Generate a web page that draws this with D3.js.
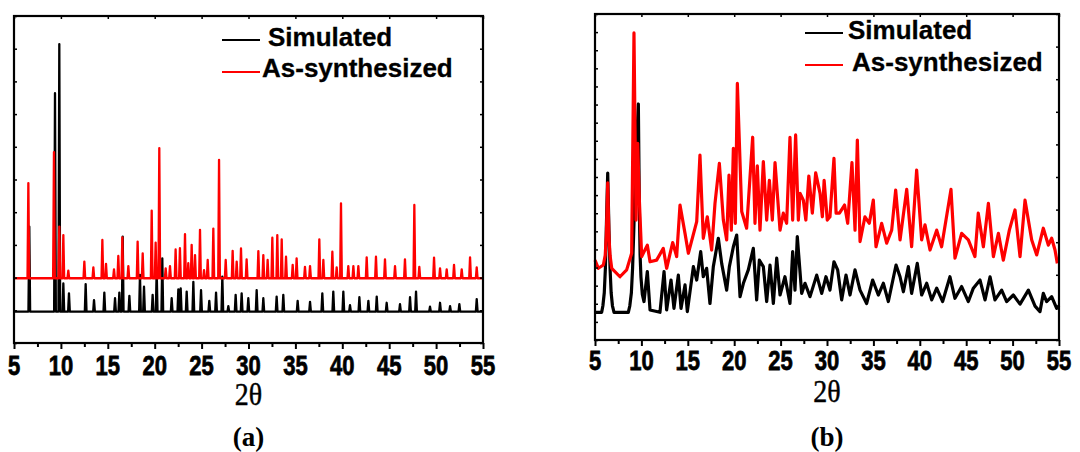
<!DOCTYPE html>
<html><head><meta charset="utf-8">
<script src="https://cdn.jsdelivr.net/npm/d3@7/dist/d3.min.js"></script>
<style>body{margin:0;background:#fff}svg{display:block}</style>
</head><body><svg id="c" width="1080" height="452"></svg>
<script>
// ---------------- data ----------------
const xTickValues = [5, 10, 15, 20, 25, 30, 35, 40, 45, 50, 55];
const seriesNames = ["Simulated", "As-synthesized"];
const seriesColors = ["#000000", "#ff0000"];
const panelLabels = ["(a)", "(b)"];
const axisTitle = "2\u03b8";

// Panel (a): sharp reflections on a flat baseline [2theta, intensity]
const simBaseA = 9.6;
const synBaseA = 19.8;
const simPeaksA = [
  [6.63,35.6],[9.37,76.4],[9.83,91.4],[10.26,18.2],[10.86,15.2],[12.64,18.0],[13.53,13.1],
  [14.63,15.4],[15.77,13.7],[16.23,15.4],[16.59,32.5],[17.30,14.4],[18.43,20.8],[18.86,17.2],
  [19.78,14.7],[20.21,22.3],[20.81,25.9],[21.81,13.7],[22.52,16.4],[22.77,16.7],[23.41,15.7],
  [24.12,18.7],[24.94,16.2],[25.82,12.9],[26.54,15.4],[27.21,20.3],[27.85,11.3],[28.63,14.7],
  [29.27,15.2],[29.98,13.7],[30.87,16.2],[31.58,13.7],[33.00,14.2],[33.71,14.7],[35.24,12.9],
  [36.56,12.6],[37.87,15.2],[39.04,15.7],[40.11,15.7],[40.82,11.6],[41.82,14.0],[42.78,12.9],
  [43.67,14.2],[44.73,12.3],[46.15,11.9],[47.22,14.0],[47.86,15.7],[49.35,11.1],[50.42,12.3],
  [51.49,11.3],[52.48,11.9],[54.33,13.4]
];
const synPeaksA = [
  [6.53,48.9],[9.26,58.4],[9.83,35.6],[10.26,33.0],[10.79,22.1],[12.50,24.9],[13.46,23.1],
  [14.42,31.5],[14.81,24.2],[15.66,22.5],[16.12,26.6],[16.55,32.3],[17.19,23.5],[18.18,31.0],
  [18.72,27.4],[19.68,40.5],[20.10,30.7],[20.49,59.6],[21.17,22.8],[21.63,23.5],[22.23,28.6],
  [22.69,29.0],[23.23,33.3],[23.58,24.4],[23.94,30.0],[24.30,26.9],[24.83,34.6],[25.26,22.3],
  [25.65,25.4],[26.25,35.0],[26.86,56.0],[27.57,25.4],[28.31,28.2],[28.74,24.9],[29.20,28.9],
  [29.80,25.6],[31.05,28.1],[31.58,26.9],[32.04,25.4],[32.54,32.2],[33.07,33.0],[33.54,31.7],
  [34.00,26.4],[34.71,23.9],[35.13,25.9],[36.02,23.3],[36.56,23.5],[37.55,31.7],[37.98,25.4],
  [38.94,27.9],[39.40,23.1],[39.86,42.7],[40.64,23.5],[41.18,23.5],[41.71,23.5],[42.60,26.2],
  [43.59,26.4],[44.55,25.6],[45.62,23.5],[46.68,25.6],[47.68,42.2],[48.21,23.3],[49.78,26.1],
  [50.42,22.8],[51.13,22.5],[51.91,23.9],[52.73,22.5],[53.62,26.2],[54.33,23.1]
];

// Panel (b): traced patterns [2theta, intensity]
const simTraceB = [
  [5.0,8.5],[5.72,8.5],[5.85,10.5],[6.0,14.5],[6.12,22],[6.22,34],[6.37,51.2],[6.50,34],[6.62,22],
  [6.74,14.5],[6.88,10.5],[7.05,8.5],
  [8.59,8.5],[8.75,10.5],[8.92,14.5],[9.05,22],[9.18,33.7],[9.30,46],[9.45,58],[9.67,72.4],[9.78,40],
  [9.86,26],[9.95,19.4],[10.10,14],[10.28,11.8],
  [10.64,21.0],[10.93,9.2],[12.0,8.5],[12.44,21.0],[12.72,9.2],[13.19,18.4],[13.51,9.7],[13.98,19.9],
  [14.27,9.7],[14.70,16.9],[14.95,8.7],[15.60,22.5],[15.96,18.4],[16.39,27.1],[16.67,19.4],[17.03,22.0],
  [17.39,11.2],[17.75,22.5],[18.29,31.2],[18.65,23.5],[19.19,15.3],[19.48,22.5],[19.91,28.6],[20.27,32.2],
  [20.63,13.3],[20.99,17.4],[21.52,21.5],[22.06,28.1],[22.42,12.3],[22.71,24.5],[23.14,22.5],[23.50,11.8],
  [23.86,23.0],[24.22,11.2],[24.58,25.1],[24.94,13.8],[25.47,19.4],[26.01,11.2],[26.30,27.1],[26.55,15.3],
  [26.80,31.7],[27.27,14.3],[27.63,17.4],[28.17,13.3],[28.89,19.9],[29.43,14.3],[29.89,19.4],[30.32,15.3],
  [30.75,24.0],[31.15,21.5],[31.58,12.3],[32.05,19.9],[32.48,13.8],[33.02,21.5],[33.56,15.3],[34.27,11.2],
  [34.92,18.4],[35.53,13.8],[36.07,17.4],[36.61,11.8],[37.44,23.0],[37.87,19.4],[38.23,14.8],[38.77,22.5],
  [39.12,14.3],[39.73,23.5],[40.20,13.8],[40.74,17.4],[41.28,12.3],[41.82,15.9],[42.46,11.8],[43.25,19.4],
  [43.79,12.8],[44.51,16.4],[45.23,11.8],[45.77,15.9],[46.49,18.4],[47.03,12.3],[47.57,19.4],[48.10,12.3],
  [48.82,15.3],[49.36,11.8],[50.08,13.8],[50.80,11.0],[51.70,15.3],[52.42,10.4],[52.95,8.7],[53.31,14.3],
  [53.67,11.8],[54.21,13.3],[54.75,9.7],[55.0,10.5]
];
const synTraceB = [
  [5.0,24.5],[5.36,22.0],[5.9,23.0],[6.10,26],[6.22,32],[6.37,48.2],[6.50,32],[6.62,26],[6.80,22.0],[7.69,19.4],
  [8.41,21.5],[8.95,26.6],[9.20,94.2],[9.42,36.8],[9.60,60.3],[9.78,42.9],[10.03,25.6],[10.64,29.1],
  [10.93,24.0],[11.64,24.5],[12.36,28.1],[12.72,22.0],[13.37,29.9],[13.80,25.6],[14.16,41.4],[14.70,32.7],
  [15.06,26.6],[15.96,36.3],[16.31,56.7],[16.67,31.2],[17.10,37.8],[17.57,27.6],[17.93,41.9],[18.40,54.2],
  [18.83,36.8],[19.19,30.7],[19.44,50.6],[19.69,33.7],[19.91,58.8],[20.12,35.8],[20.34,78.7],[20.81,39.4],
  [21.34,34.3],[21.99,62.2],[22.24,35.8],[22.49,53.4],[22.78,33.7],[23.14,54.7],[23.50,36.8],[23.79,49.0],
  [24.11,36.8],[24.40,54.4],[24.94,33.7],[25.29,38.9],[25.65,35.8],[26.01,62.2],[26.30,36.8],[26.62,62.9],
  [26.91,36.8],[27.09,45.0],[27.45,42.9],[27.72,36.8],[28.04,50.3],[28.42,38.9],[28.78,51.3],[29.25,45.0],
  [29.50,37.8],[29.69,49.0],[30.03,36.8],[30.32,37.8],[30.75,55.7],[30.98,38.9],[31.34,38.9],[31.89,41.4],
  [32.23,35.8],[32.69,54.4],[33.02,33.7],[33.27,61.3],[33.56,30.2],[34.09,37.8],[34.56,35.8],[34.99,42.9],
  [35.28,28.6],[35.89,35.8],[36.43,29.7],[36.97,33.7],[37.40,46.0],[37.87,30.7],[38.59,46.2],[39.12,28.6],
  [39.66,52.1],[40.20,30.7],[40.56,35.3],[41.10,27.6],[41.82,33.7],[42.35,28.6],[43.36,46.2],[43.79,25.1],
  [44.51,32.7],[45.23,30.7],[45.94,25.6],[46.30,38.9],[46.85,28.6],[47.39,41.9],[47.93,25.6],[48.47,32.7],
  [49.00,24.5],[49.65,33.7],[50.26,39.9],[50.80,25.6],[51.34,42.9],[52.06,30.7],[52.60,26.1],[53.31,34.3],
  [53.85,29.1],[54.21,31.2],[54.57,27.6],[54.82,23.5]
];

// ---------------- drawing ----------------
const svg = d3.select("#c");
svg.append("rect").attr("width",1080).attr("height",452).attr("fill","#fff");

const panels = [
  {left:14, right:483, top:16, bottom:343, lw:2.3, leftTicks:10, rightTicks:10,
   legend:{lx:222, y1:40, y2:72, tx1:268, tb1:46, tx2:262, tb2:77},
   tickBase:375, titleBase:405, labelBase:446, title:panelLabels[0]},
  {left:595, right:1059, top:14, bottom:340, lw:3.2, leftTicks:18, rightTicks:10,
   legend:{lx:805, y1:33, y2:65, tx1:848, tb1:39, tx2:852, tb2:71},
   tickBase:370, titleBase:402, labelBase:446, title:panelLabels[1]}
];

function stickPoints(peaks, base){
  const pts=[[5,base]];
  const hw=0.09;
  peaks.slice().sort((a,b)=>a[0]-b[0]).forEach(p=>{
    pts.push([p[0]-hw,base]); pts.push([p[0],p[1]]); pts.push([p[0]+hw,base]);
  });
  pts.push([55,base]);
  return pts;
}

panels.forEach((P,i)=>{
  const g = svg.append("g");
  const x = d3.scaleLinear().domain([5,55]).range([P.left,P.right]);
  const y = d3.scaleLinear().domain([0,100]).range([P.bottom,P.top]);
  const line = d3.line().x(d=>x(d[0])).y(d=>y(d[1]));

  let sim, syn;
  if(i===0){ sim = stickPoints(simPeaksA, simBaseA); syn = stickPoints(synPeaksA, synBaseA); }
  else { sim = simTraceB; syn = synTraceB; }

  g.append("path").attr("d",line(sim)).attr("fill","none").attr("stroke",seriesColors[0])
    .attr("stroke-width",P.lw).attr("stroke-linejoin","round");
  g.append("path").attr("d",line(syn)).attr("fill","none").attr("stroke",seriesColors[1])
    .attr("stroke-width",P.lw).attr("stroke-linejoin","round");

  // frame
  g.append("rect").attr("x",P.left).attr("y",P.top).attr("width",P.right-P.left)
    .attr("height",P.bottom-P.top).attr("fill","none").attr("stroke","#000").attr("stroke-width",2.2);

  // bottom axis
  const minor = d3.range(7.5,55,5);
  const ax = g.append("g").attr("transform",`translate(0,${P.bottom})`)
    .call(d3.axisBottom(x).tickValues(xTickValues).tickSize(6).tickFormat(""));
  ax.select(".domain").remove();
  ax.selectAll(".tick line").attr("stroke-width",2);
  g.append("g").attr("transform",`translate(0,${P.bottom})`)
    .call(d3.axisBottom(x).tickValues(minor).tickSize(4).tickFormat(""))
    .call(s=>{s.select(".domain").remove(); s.selectAll(".tick line").attr("stroke-width",2);});
  // top axis ticks (inward)
  g.append("g").attr("transform",`translate(0,${P.top})`)
    .call(d3.axisBottom(x).tickValues(xTickValues).tickSize(3).tickFormat(""))
    .call(s=>{s.select(".domain").remove(); s.selectAll(".tick line").attr("stroke-width",1.5);});
  // left/right ticks (inward)
  const yl = d3.range(0,100.01,100/P.leftTicks);
  const yr = d3.range(0,100.01,100/P.rightTicks);
  g.append("g").attr("transform",`translate(${P.left},0)`)
    .call(d3.axisRight(y).tickValues(yl).tickSize(3).tickFormat(""))
    .call(s=>{s.select(".domain").remove(); s.selectAll(".tick line").attr("stroke-width",1.5);});
  g.append("g").attr("transform",`translate(${P.right},0)`)
    .call(d3.axisLeft(y).tickValues(yr).tickSize(3).tickFormat(""))
    .call(s=>{s.select(".domain").remove(); s.selectAll(".tick line").attr("stroke-width",1.5);});

  // tick labels (bold, slightly tall)
  g.selectAll("text.tl").data(xTickValues).enter().append("text")
    .attr("class","tl")
    .attr("transform",d=>`translate(${x(d)},${P.tickBase}) scale(1,1.25)`)
    .attr("text-anchor","middle")
    .attr("font-family","Liberation Sans, Arial, sans-serif").attr("font-weight","bold")
    .attr("font-size",22).attr("fill","#000").attr("stroke","#000").attr("stroke-width",0.6)
    .text(d=>d);

  const cx = (P.left+P.right)/2;
  g.append("text").attr("transform",`translate(${cx},${P.titleBase}) scale(1,1.12)`)
    .attr("text-anchor","middle")
    .attr("font-family","Liberation Serif, Times New Roman, serif").attr("font-size",28)
    .attr("fill","#000").attr("stroke","#000").attr("stroke-width",0.4).text(axisTitle);
  g.append("text").attr("x",cx).attr("y",P.labelBase).attr("text-anchor","middle")
    .attr("font-family","Liberation Serif, Times New Roman, serif").attr("font-weight","bold")
    .attr("font-size",27).attr("fill","#000").text(P.title);

  // legend
  const L = P.legend;
  [[L.y1,L.tx1,L.tb1],[L.y2,L.tx2,L.tb2]].forEach((r,k)=>{
    g.append("line").attr("x1",L.lx).attr("x2",L.lx+38).attr("y1",r[0]).attr("y2",r[0])
      .attr("stroke",seriesColors[k]).attr("stroke-width",2.2);
    g.append("text").attr("x",r[1]).attr("y",r[2])
      .attr("font-family","Liberation Sans, Arial, sans-serif").attr("font-weight","bold")
      .attr("font-size",26).attr("fill","#000").attr("stroke","#000").attr("stroke-width",0.3)
      .text(seriesNames[k]);
  });
});
</script></body></html>
